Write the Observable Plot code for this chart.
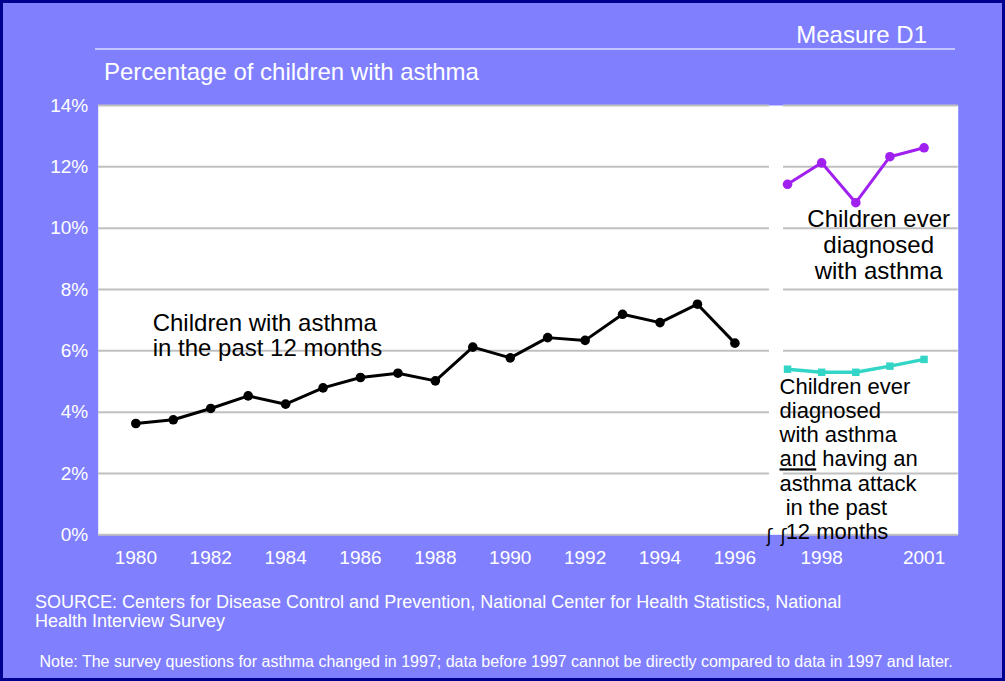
<!DOCTYPE html>
<html>
<head>
<meta charset="utf-8">
<script src="https://cdn.jsdelivr.net/npm/d3@7"></script>
<script src="https://cdn.jsdelivr.net/npm/@observablehq/plot@0.6"></script>
<style>
  html, body { margin: 0; padding: 0; background: #8080ff; }
  #wrap { position: relative; width: 1005px; height: 681px; background: #8080ff; overflow: hidden;
          font-family: "Liberation Sans", Arial, sans-serif; color: #ffffff; }
  #wrap svg { position: absolute; left: 0; top: 0; }
  #wrap svg text { white-space: pre; }
  .t { position: absolute; white-space: nowrap; line-height: 1; }
  #measure { right: 78px; top: 22.7px; font-size: 24px; }
  #sep { position: absolute; left: 95px; width: 860px; top: 48px; height: 2px; background: #c4c4ff; }
  #title { left: 104px; top: 59.7px; font-size: 24px; }
  #source { left: 35px; top: 593.3px; font-size: 18px; line-height: 19px; white-space: normal; width: 920px; }
  #note { left: 39.5px; top: 654.2px; font-size: 16px; }
  #border { position: absolute; inset: 0; border: 3px solid #000090; box-sizing: border-box; pointer-events: none; }
</style>
</head>
<body>
<div id="wrap">
  <div class="t" id="measure">Measure D1</div>
  <div id="sep"></div>
  <div class="t" id="title">Percentage of children with asthma</div>
  <div class="t" id="source">SOURCE: Centers for Disease Control and Prevention, National Center for Health Statistics, National<br>Health Interview Survey</div>
  <div class="t" id="note">Note: The survey questions for asthma changed in 1997; data before 1997 cannot be directly compared to data in 1997 and later.</div>
  <div id="border"></div>
</div>
<script>
// ---- data ----
const yearsOld = [1980, 1981, 1982, 1983, 1984, 1985, 1986, 1987, 1988, 1989, 1990, 1991, 1992, 1993, 1994, 1995, 1996];
const pastYearAsthma = [3.63, 3.75, 4.12, 4.53, 4.26, 4.79, 5.13, 5.27, 5.02, 6.12, 5.77, 6.43, 6.34, 7.19, 6.92, 7.52, 6.25];
const yearsNew = [1997, 1998, 1999, 2000, 2001];
const everDiagnosed = [11.43, 12.13, 10.83, 12.33, 12.62];
const everDiagnosedAttack = [5.40, 5.30, 5.30, 5.50, 5.72];
const yTicks = [0, 2, 4, 6, 8, 10, 12, 14];
const xTicks = [1980, 1982, 1984, 1986, 1988, 1990, 1992, 1994, 1996, 1998, 2001];
const labelPast = "Children with asthma\nin the past 12 months";
const labelEver = "Children ever\ndiagnosed\nwith asthma";
const labelAttack = "Children ever\ndiagnosed\nwith asthma\nand having an\nasthma attack\n in the past\n 12 months";

// ---- tables ----
const oldData = yearsOld.map((year, i) => ({year, value: pastYearAsthma[i]}));
const everData = yearsNew.map((year, i) => ({year, value: everDiagnosed[i]}));
const attackData = yearsNew.map((year, i) => ({year, value: everDiagnosedAttack[i]}));

// break between the two survey periods (x-axis discontinuity)
const gapStart = 1996.743, gapEnd = 1996.882;

const font = "Liberation Sans, Arial, sans-serif";

const chart = Plot.plot({
  width: 1005,
  height: 580,
  marginLeft: 97.7,
  marginRight: 47.3,
  marginTop: 105,
  marginBottom: 45.7,
  style: {background: "transparent", fontFamily: font, overflow: "visible"},
  x: {type: "linear", domain: [1979, 1996.7, 1996.8, 2002], range: [97.9, 760.6, 780.2, 957.7]},
  y: {domain: [0, 14]},
  marks: [
    Plot.frame({fill: "white", stroke: null}),
    Plot.ruleY(yTicks, {x1: () => 1979, x2: () => gapStart, stroke: "#c0c0c0", strokeWidth: 2, strokeOpacity: 1}),
    Plot.ruleY(yTicks, {x1: () => gapEnd, x2: () => 2002, stroke: "#c0c0c0", strokeWidth: 2, strokeOpacity: 1}),
    Plot.axisY({ticks: yTicks, tickFormat: d => d + "%", tickSize: 0, tickPadding: 10, fill: "white", fontSize: 19, fontFamily: font, label: null}),
    Plot.axisX({ticks: xTicks, tickFormat: d => String(d), tickSize: 0, tickPadding: 16, fill: "white", fontSize: 19, fontFamily: font, label: null}),
    Plot.line(oldData, {x: "year", y: "value", stroke: "black", strokeWidth: 3}),
    Plot.dot(oldData, {x: "year", y: "value", fill: "black", r: 4.8}),
    Plot.line(everData, {x: "year", y: "value", stroke: "#a020f0", strokeWidth: 3}),
    Plot.dot(everData, {x: "year", y: "value", fill: "#a020f0", r: 4.8}),
    Plot.line(attackData, {x: "year", y: "value", stroke: "#33d6c6", strokeWidth: 3.5}),
    Plot.dot(attackData, {x: "year", y: "value", fill: "#33d6c6", symbol: "square", r: 4.2}),
    Plot.text([labelPast], {x: () => 1980.45, y: () => 6.50, text: d => d, textAnchor: "start", lineAnchor: "middle", lineHeight: 1.0625, fontSize: 24, fill: "black", fontFamily: font}),
    Plot.text([labelEver], {x: () => 1999.67, y: () => 9.46, text: d => d, textAnchor: "middle", lineAnchor: "middle", lineHeight: 1.083, fontSize: 24, fill: "black", fontFamily: font}),
    Plot.text([labelAttack], {x: () => 1997, y: () => 5.16, dx: -8, text: d => d, textAnchor: "start", lineAnchor: "top", lineHeight: 1.1, fontSize: 22, fill: "black", fontFamily: font}),
    Plot.text([gapStart, gapEnd], {x: d => d, y: () => 0, dy: 1, text: () => "ʃ", fontSize: 18, fill: "black", fontFamily: "DejaVu Sans"})
  ]
});

document.getElementById("wrap").insertBefore(chart, document.getElementById("border"));

// underline "and" in the attack label
const NS = "http://www.w3.org/2000/svg";
chart.querySelectorAll("tspan").forEach(ts => {
  if (ts.textContent === "and having an") {
    ts.textContent = "";
    const u = document.createElementNS(NS, "tspan");
    u.setAttribute("text-decoration", "underline");
    u.style.textDecoration = "underline";
    u.textContent = "and";
    ts.appendChild(u);
    ts.appendChild(document.createTextNode(" having an"));
  }
});
</script>
</body>
</html>
